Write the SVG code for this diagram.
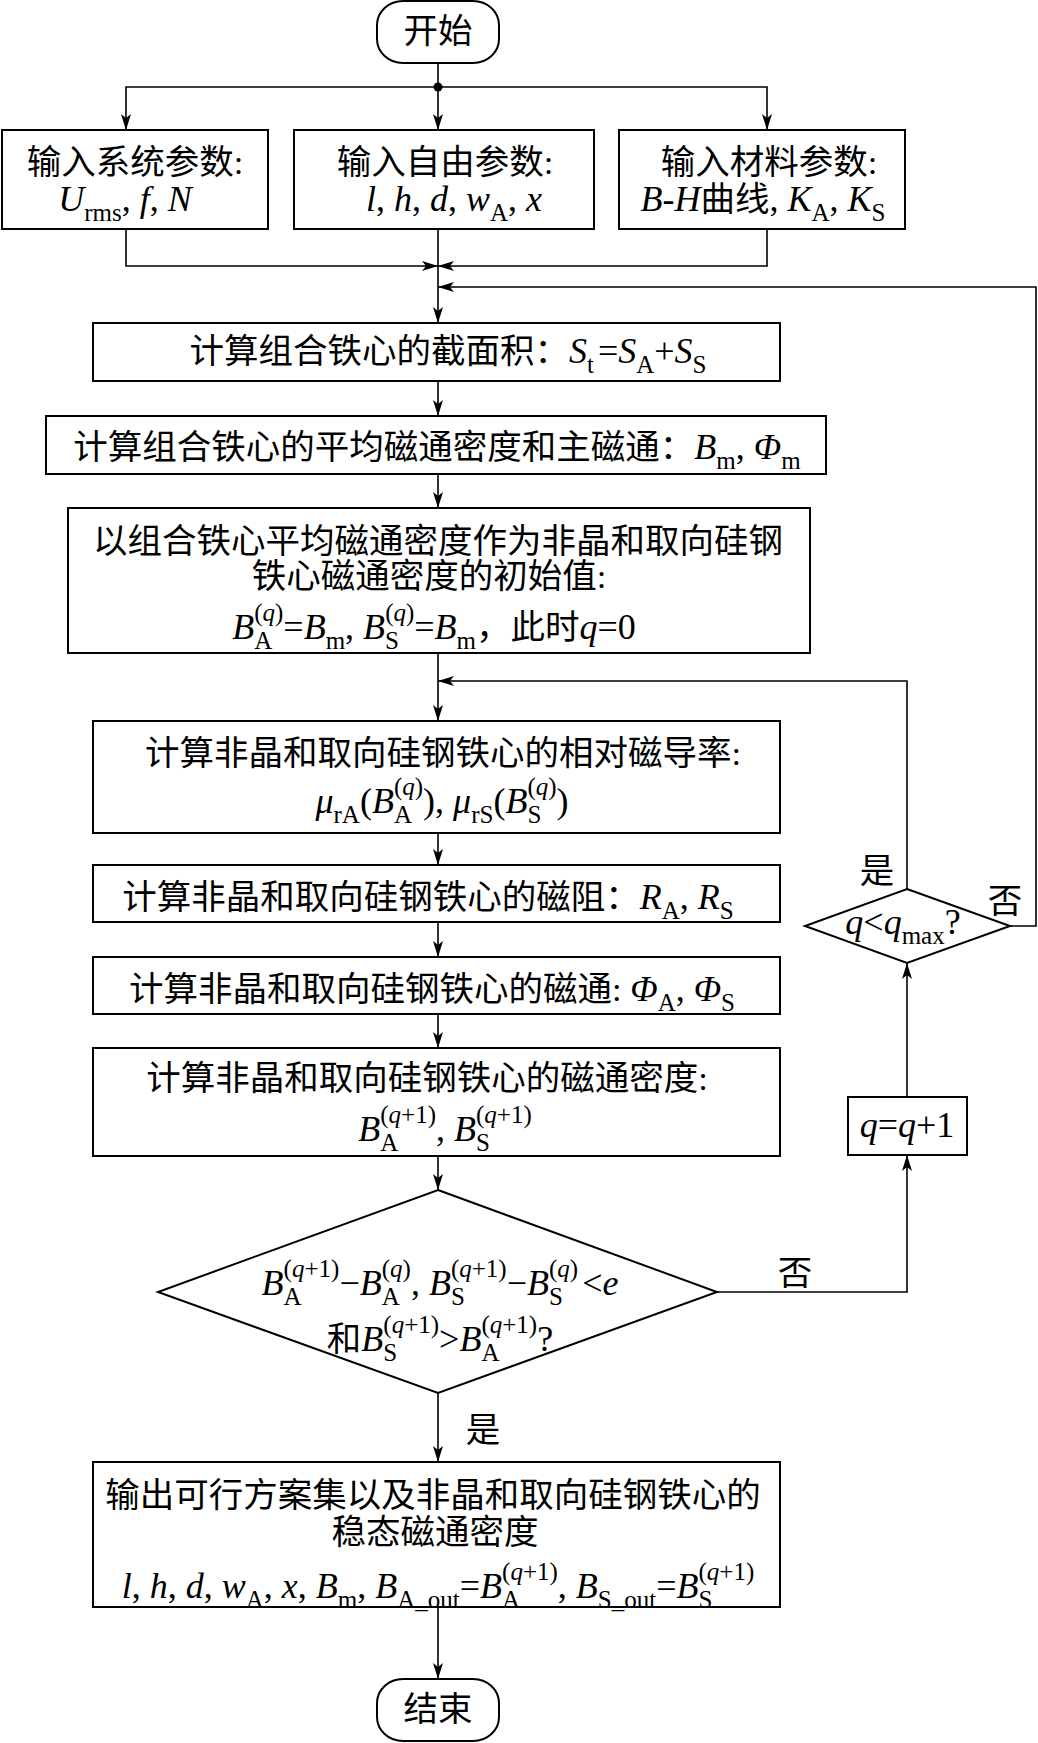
<svg xmlns="http://www.w3.org/2000/svg" width="1038" height="1743" viewBox="0 0 1038 1743">
<defs>
<style>
.t{font-family:"Liberation Serif","Noto Sans CJK SC",serif;font-size:34.5px;fill:#000}
.f{font-size:36px}
.c{font-size:34.5px}
.i{font-style:italic}
.s{font-size:25px;font-style:normal}
.box{fill:#fff;stroke:#000;stroke-width:2}
.ln{fill:none;stroke:#000;stroke-width:1.6}
</style>
<marker id="ah" viewBox="0 0 16 10" refX="16" refY="5" markerWidth="16" markerHeight="10" markerUnits="userSpaceOnUse" orient="auto">
<path d="M0,0 L16,5 L0,10 L4,5 z" fill="#000"/>
</marker>
</defs>
<rect width="1038" height="1743" fill="#fff"/>

<g id="connectors">
<path class="ln" d="M438,63 V130" marker-end="url(#ah)"/>
<path class="ln" d="M438,87 H126 V130" marker-end="url(#ah)"/>
<path class="ln" d="M438,87 H767 V130" marker-end="url(#ah)"/>
<circle cx="438" cy="87" r="4.5" fill="#000"/>
<path class="ln" d="M126,229 V266 H438" marker-end="url(#ah)"/>
<path class="ln" d="M767,229 V266 H438" marker-end="url(#ah)"/>
<path class="ln" d="M438,229 V323" marker-end="url(#ah)"/>
<path class="ln" d="M1010,926 H1036 V287 H438" marker-end="url(#ah)"/>
<path class="ln" d="M438,381 V416" marker-end="url(#ah)"/>
<path class="ln" d="M438,474 V508" marker-end="url(#ah)"/>
<path class="ln" d="M438,653 V721" marker-end="url(#ah)"/>
<path class="ln" d="M907,889 V681 H438" marker-end="url(#ah)"/>
<path class="ln" d="M438,833 V865" marker-end="url(#ah)"/>
<path class="ln" d="M438,922 V957" marker-end="url(#ah)"/>
<path class="ln" d="M438,1014 V1048" marker-end="url(#ah)"/>
<path class="ln" d="M438,1156 V1190" marker-end="url(#ah)"/>
<path class="ln" d="M717,1292 H907 V1155" marker-end="url(#ah)"/>
<path class="ln" d="M907,1097 V963" marker-end="url(#ah)"/>
<path class="ln" d="M438,1393 V1462" marker-end="url(#ah)"/>
<path class="ln" d="M438,1607 V1679" marker-end="url(#ah)"/>
<text class="t" x="877" y="883" text-anchor="middle">是</text>
<text class="t" x="1005" y="913" text-anchor="middle">否</text>
<text class="t" x="795" y="1285" text-anchor="middle">否</text>
<text class="t" x="483" y="1442" text-anchor="middle">是</text>
</g>

<g id="start">
<rect class="box" x="377" y="1" width="122" height="62" rx="26" ry="24"/>
<text class="t" x="438" y="43" text-anchor="middle">开始</text>
</g>

<g id="in-system">
<rect class="box" x="2" y="130" width="266" height="99"/>
<text class="t" x="135" y="174" text-anchor="middle">输入系统参数:</text>
<text class="t f" x="125" y="211" text-anchor="middle"><tspan class="i">U</tspan><tspan class="s" dy="10">rms</tspan><tspan dy="-10">, </tspan><tspan class="i">f</tspan>, <tspan class="i">N</tspan></text>
</g>

<g id="in-free">
<rect class="box" x="294" y="130" width="300" height="99"/>
<text class="t" x="445" y="174" text-anchor="middle">输入自由参数:</text>
<text class="t f" x="454" y="211" text-anchor="middle"><tspan class="i">l</tspan>, <tspan class="i">h</tspan>, <tspan class="i">d</tspan>, <tspan class="i">w</tspan><tspan class="s" dy="10">A</tspan><tspan dy="-10">, </tspan><tspan class="i">x</tspan></text>
</g>

<g id="in-material">
<rect class="box" x="619" y="130" width="286" height="99"/>
<text class="t" x="769" y="174" text-anchor="middle">输入材料参数:</text>
<text class="t f" x="763" y="211" text-anchor="middle"><tspan class="i">B</tspan>-<tspan class="i">H</tspan><tspan class="c">曲线</tspan>, <tspan class="i">K</tspan><tspan class="s" dy="10">A</tspan><tspan dy="-10">, </tspan><tspan class="i">K</tspan><tspan class="s" dy="10">S</tspan></text>
</g>

<g id="area">
<rect class="box" x="93" y="323" width="687" height="58"/>
<text class="t" x="448" y="363" text-anchor="middle">计算组合铁心的截面积：<tspan class="f"><tspan class="i">S</tspan><tspan class="s" dy="10">t</tspan><tspan dy="-10" dx="4">=</tspan><tspan class="i">S</tspan><tspan class="s" dy="10">A</tspan><tspan dy="-10">+</tspan><tspan class="i">S</tspan><tspan class="s" dy="10">S</tspan></tspan></text>
</g>

<g id="mean-flux">
<rect class="box" x="46" y="416" width="780" height="58"/>
<text class="t" x="437" y="459" text-anchor="middle">计算组合铁心的平均磁通密度和主磁通：<tspan class="f"><tspan class="i">B</tspan><tspan class="s" dy="10">m</tspan><tspan dy="-10">, </tspan><tspan class="i">Φ</tspan><tspan class="s" dy="10">m</tspan></tspan></text>
</g>

<g id="init">
<rect class="box" x="68" y="508" width="742" height="145"/>
<text class="t" x="438" y="553" text-anchor="middle">以组合铁心平均磁通密度作为非晶和取向硅钢</text>
<text class="t" x="429" y="588" text-anchor="middle">铁心磁通密度的初始值:</text>
<text class="t f" x="434" y="639" text-anchor="middle"><tspan class="i">B</tspan><tspan class="s" dy="10">A</tspan><tspan class="s" dx="-18" dy="-28">(<tspan class="i">q</tspan>)</tspan><tspan dy="18">=</tspan><tspan class="i">B</tspan><tspan class="s" dy="10">m</tspan><tspan dy="-10">, </tspan><tspan class="i">B</tspan><tspan class="s" dy="10">S</tspan><tspan class="s" dx="-13.9" dy="-28">(<tspan class="i">q</tspan>)</tspan><tspan dy="18">=</tspan><tspan class="i">B</tspan><tspan class="s" dy="10">m</tspan><tspan class="c" dy="-10">，此时</tspan><tspan class="i">q</tspan>=0</text>
</g>

<g id="permeability">
<rect class="box" x="93" y="721" width="687" height="112"/>
<text class="t" x="443" y="765" text-anchor="middle">计算非晶和取向硅钢铁心的相对磁导率:</text>
<text class="t f" x="442" y="813" text-anchor="middle"><tspan class="i">μ</tspan><tspan class="s" dy="10">rA</tspan><tspan dy="-10">(</tspan><tspan class="i">B</tspan><tspan class="s" dy="10">A</tspan><tspan class="s" dx="-18" dy="-28">(<tspan class="i">q</tspan>)</tspan><tspan dy="18">), </tspan><tspan class="i">μ</tspan><tspan class="s" dy="10">rS</tspan><tspan dy="-10">(</tspan><tspan class="i">B</tspan><tspan class="s" dy="10">S</tspan><tspan class="s" dx="-13.9" dy="-28">(<tspan class="i">q</tspan>)</tspan><tspan dy="18">)</tspan></text>
</g>

<g id="reluctance">
<rect class="box" x="93" y="865" width="687" height="57"/>
<text class="t" x="428" y="909" text-anchor="middle">计算非晶和取向硅钢铁心的磁阻：<tspan class="f"><tspan class="i">R</tspan><tspan class="s" dy="10">A</tspan><tspan dy="-10">, </tspan><tspan class="i">R</tspan><tspan class="s" dy="10">S</tspan></tspan></text>
</g>

<g id="flux">
<rect class="box" x="93" y="957" width="687" height="57"/>
<text class="t" x="432" y="1001" text-anchor="middle">计算非晶和取向硅钢铁心的磁通: <tspan class="f"><tspan class="i">Φ</tspan><tspan class="s" dy="10">A</tspan><tspan dy="-10">, </tspan><tspan class="i">Φ</tspan><tspan class="s" dy="10">S</tspan></tspan></text>
</g>

<g id="flux-density">
<rect class="box" x="93" y="1048" width="687" height="108"/>
<text class="t" x="427" y="1090" text-anchor="middle">计算非晶和取向硅钢铁心的磁通密度:</text>
<text class="t f" x="445" y="1141" text-anchor="middle"><tspan class="i">B</tspan><tspan class="s" dy="10">A</tspan><tspan class="s" dx="-18" dy="-28">(<tspan class="i">q</tspan>+1)</tspan><tspan dy="18">, </tspan><tspan class="i">B</tspan><tspan class="s" dy="10">S</tspan><tspan class="s" dx="-13.9" dy="-28">(<tspan class="i">q</tspan>+1)</tspan></text>
</g>

<g id="converge">
<polygon class="box" points="438,1190 717,1292 438,1393 158,1292"/>
<text class="t f" x="440" y="1295" text-anchor="middle"><tspan class="i">B</tspan><tspan class="s" dy="10">A</tspan><tspan class="s" dx="-18" dy="-28">(<tspan class="i">q</tspan>+1)</tspan><tspan dy="18">−</tspan><tspan class="i">B</tspan><tspan class="s" dy="10">A</tspan><tspan class="s" dx="-18" dy="-28">(<tspan class="i">q</tspan>)</tspan><tspan dy="18">, </tspan><tspan class="i">B</tspan><tspan class="s" dy="10">S</tspan><tspan class="s" dx="-13.9" dy="-28">(<tspan class="i">q</tspan>+1)</tspan><tspan dy="18">−</tspan><tspan class="i">B</tspan><tspan class="s" dy="10">S</tspan><tspan class="s" dx="-13.9" dy="-28">(<tspan class="i">q</tspan>)</tspan><tspan dy="18" dx="4">&lt;</tspan><tspan class="i">e</tspan></text>
<text class="t f" x="440" y="1351" text-anchor="middle"><tspan class="c">和</tspan><tspan class="i">B</tspan><tspan class="s" dy="10">S</tspan><tspan class="s" dx="-13.9" dy="-28">(<tspan class="i">q</tspan>+1)</tspan><tspan dy="18">&gt;</tspan><tspan class="i">B</tspan><tspan class="s" dy="10">A</tspan><tspan class="s" dx="-18" dy="-28">(<tspan class="i">q</tspan>+1)</tspan><tspan dy="18">?</tspan></text>
</g>

<g id="output">
<rect class="box" x="93" y="1462" width="687" height="145"/>
<text class="t" x="433" y="1507" text-anchor="middle">输出可行方案集以及非晶和取向硅钢铁心的</text>
<text class="t" x="435" y="1544" text-anchor="middle">稳态磁通密度</text>
<text class="t f" x="438" y="1598" text-anchor="middle"><tspan class="i">l</tspan>, <tspan class="i">h</tspan>, <tspan class="i">d</tspan>, <tspan class="i">w</tspan><tspan class="s" dy="10">A</tspan><tspan dy="-10">, </tspan><tspan class="i">x</tspan>, <tspan class="i">B</tspan><tspan class="s" dy="10">m</tspan><tspan dy="-10">, </tspan><tspan class="i">B</tspan><tspan class="s" dy="10">A_out</tspan><tspan dy="-10">=</tspan><tspan class="i">B</tspan><tspan class="s" dy="10">A</tspan><tspan class="s" dx="-18" dy="-28">(<tspan class="i">q</tspan>+1)</tspan><tspan dy="18">, </tspan><tspan class="i">B</tspan><tspan class="s" dy="10">S_out</tspan><tspan dy="-10">=</tspan><tspan class="i">B</tspan><tspan class="s" dy="10">S</tspan><tspan class="s" dx="-13.9" dy="-28">(<tspan class="i">q</tspan>+1)</tspan></text>
</g>

<g id="end">
<rect class="box" x="377" y="1679" width="122" height="62" rx="26" ry="24"/>
<text class="t" x="438" y="1721" text-anchor="middle">结束</text>
</g>

<g id="q-check">
<polygon class="box" points="907,889 1010,926 907,963 805,926"/>
<text class="t f" x="903" y="934" text-anchor="middle"><tspan class="i">q</tspan>&lt;<tspan class="i">q</tspan><tspan class="s" dy="10">max</tspan><tspan dy="-10">?</tspan></text>
</g>

<g id="q-inc">
<rect class="box" x="848" y="1097" width="119" height="58"/>
<text class="t f" x="907" y="1137" text-anchor="middle"><tspan class="i">q</tspan>=<tspan class="i">q</tspan>+1</text>
</g>
</svg>
